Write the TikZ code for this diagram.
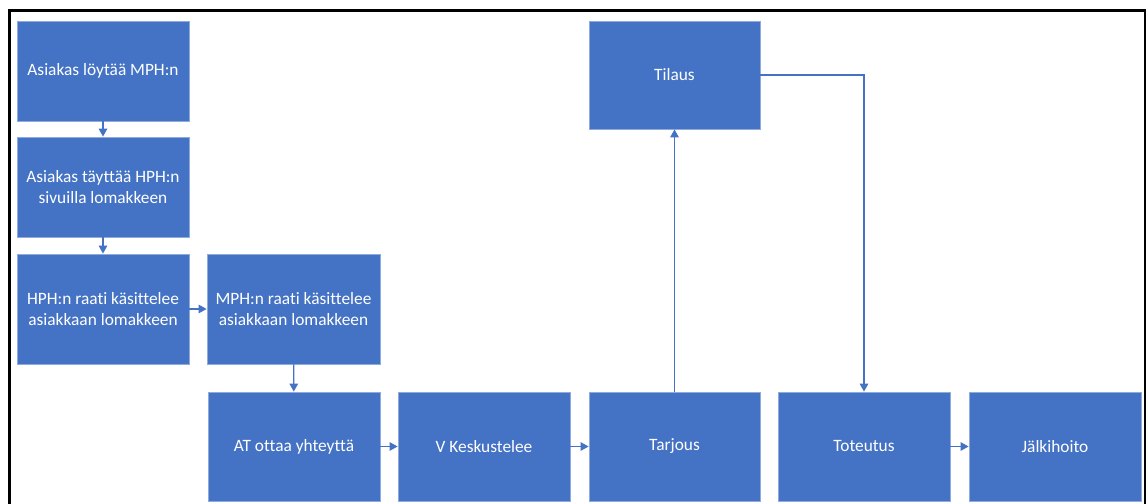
\documentclass[tikz,border=0pt]{standalone}
\usepackage{fontspec}
\setmainfont{Carlito}[Ligatures=NoCommon]
\usetikzlibrary{arrows.meta}
\definecolor{boxblue}{HTML}{4472C4}
\definecolor{edgeblue}{HTML}{8FAADC}
\tikzset{
  box/.style={fill=boxblue, draw=edgeblue, line width=0.8bp, text=white,
    align=center, font=\fontsize{17.4}{21.5}\selectfont, inner sep=2bp,
    minimum width=172bp, minimum height=100bp},
  conn/.style={draw=boxblue, line width=1.4bp, -{Triangle[length=8bp,width=8.5bp]}}
}
\begin{document}
\begin{tikzpicture}[x=1bp,y=-1bp]
\useasboundingbox (0,0) rectangle (1147,504);
\fill[white] (0,0) rectangle (1147,504);
\draw[black, line width=2.2bp] (9.5,10.5) rectangle (1145,530);

\node[box] (a1) at (103,71) {Asiakas löytää MPH:n};
\node[box] (a2) at (103,187) {Asiakas täyttää HPH:n\\sivuilla lomakkeen};
\node[box, minimum height=110bp] (hph) at (103,309) {HPH:n raati käsittelee\\asiakkaan lomakkeen};
\node[box, minimum height=110bp, minimum width=173bp] (mph) at (293.5,309) {MPH:n raati käsittelee\\asiakkaan lomakkeen};
\node[box, minimum height=109bp] (at) at (294,446.5) {AT ottaa yhteyttä};
\node[box, minimum height=109bp] (v) at (484,446.5) {V Keskustelee};
\node[box, minimum height=109bp, minimum width=171bp] (tarj) at (674.5,446.5) {Tarjous};
\node[box, minimum height=108bp, minimum width=171bp] (til) at (674.5,75) {Tilaus};
\node[box, minimum height=109bp] (tot) at (864,446.5) {Toteutus};
\node[box, minimum height=109bp] (jalk) at (1055,446.5) {Jälkihoito};

\draw[conn] (a1) -- (a2);
\draw[conn] (a2) -- (hph);
\draw[conn] (hph) -- (mph);
\draw[conn] (mph) -- (at);
\draw[conn] (at) -- (v);
\draw[conn] (v) -- (tarj);
\draw[conn] (tarj) -- (til);
\draw[conn] (til.east) -| (tot.north);
\draw[conn] (tot) -- (jalk);
\end{tikzpicture}
\end{document}
